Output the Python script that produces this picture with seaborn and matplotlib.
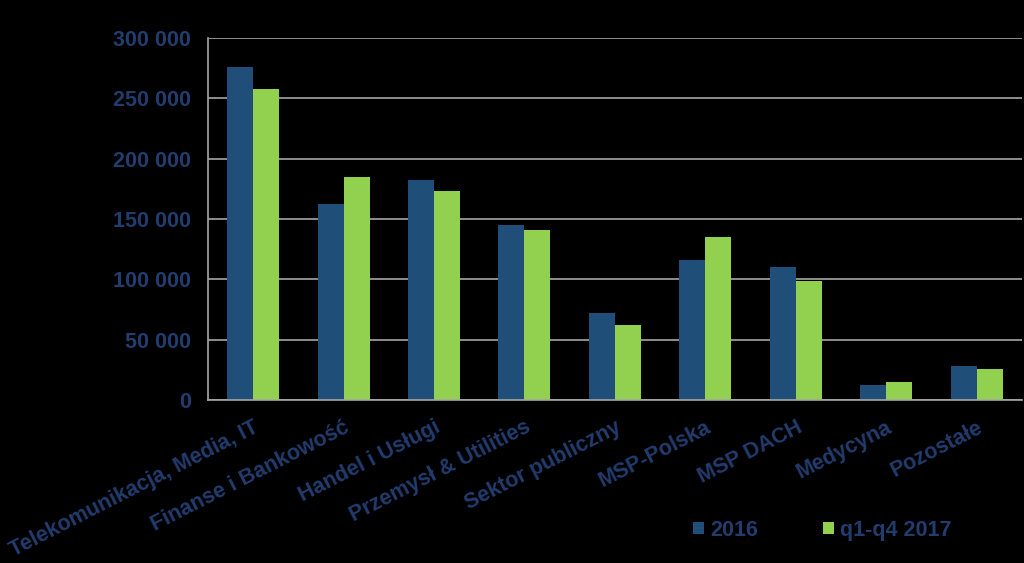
import matplotlib
matplotlib.use("Agg")
import matplotlib.pyplot as plt
import seaborn as sns
import pandas as pd
import numpy as np
from matplotlib.ticker import FuncFormatter
from matplotlib.patches import Patch

categories = ["Telekomunikacja, Media, IT", "Finanse i Bankowość", "Handel i Usługi",
              "Przemysł & Utilities", "Sektor publiczny", "MSP-Polska", "MSP DACH",
              "Medycyna", "Pozostałe"]
series_names = ["2016", "q1-q4 2017"]
values_2016 = [276000, 162500, 182500, 145000, 72000, 116000, 110000, 12700, 28000]
values_2017 = [258000, 185000, 173000, 141000, 62000, 135500, 99000, 15000, 26000]
y_ticks = [0, 50000, 100000, 150000, 200000, 250000, 300000]

df = pd.DataFrame({
    "category": categories * 2,
    "series": [series_names[0]] * len(categories) + [series_names[1]] * len(categories),
    "value": values_2016 + values_2017,
})

sns.set_style("white")
plt.rcParams['font.family'] = ['Liberation Sans', 'DejaVu Sans']
text_color = "#223C6E"
grid_color = "#A6A6A6"
colors = ["#1F4E79", "#92D050"]

fig = plt.figure(figsize=(10.24, 5.63), dpi=100, facecolor="black")
ax = fig.add_axes([0.203, 0.2895, 0.795, 0.643])
ax.set_facecolor("black")

sns.barplot(data=df, x="category", y="value", hue="series",
            palette=colors, width=0.575, saturation=1,
            ax=ax, legend=False, linewidth=0, edgecolor="none")

ax.set_ylim(0, 300000)
ax.set_xlim(-0.5, len(categories) - 0.5)
ax.set_yticks(y_ticks)
ax.yaxis.set_major_formatter(FuncFormatter(lambda v, p: f"{int(v):,}".replace(",", " ")))
ax.grid(axis="y", color=grid_color, linewidth=1.2)
ax.set_axisbelow(True)
for s in ["top", "right"]:
    ax.spines[s].set_visible(False)
for s in ["left", "bottom"]:
    ax.spines[s].set_color(grid_color)
    ax.spines[s].set_linewidth(1.2)

ax.set_xlabel("")
ax.set_ylabel("")
ax.tick_params(axis="y", colors=grid_color, labelcolor=text_color, length=6,
               width=1.2, direction="out", labelsize=15.5, pad=6)
for t in ax.get_yticklabels():
    t.set_fontweight("bold")

ax.set_xticks(range(len(categories)))
ax.set_xticklabels(categories, rotation=27, ha="right", rotation_mode="anchor",
                   fontsize=15.5, fontweight="bold", color=text_color)
ax.tick_params(axis="x", which="major", length=0, pad=12)
ax.set_xticks(np.arange(-0.5, len(categories), 1.0), minor=True)
ax.tick_params(axis="x", which="minor", length=6, width=1.2, colors=grid_color,
               direction="out")

handles = [Patch(facecolor=colors[0], edgecolor="none"),
           Patch(facecolor=colors[1], edgecolor="none")]
leg = fig.legend(handles, series_names, loc="center", bbox_to_anchor=(0.803, 0.058),
                 ncol=2, frameon=False, handlelength=0.5, handleheight=0.5,
                 handletextpad=0.3, columnspacing=3.0,
                 prop={"size": 15.5, "weight": "bold"})
for t in leg.get_texts():
    t.set_color(text_color)

fig.savefig("out.png", dpi=100, facecolor="black")
